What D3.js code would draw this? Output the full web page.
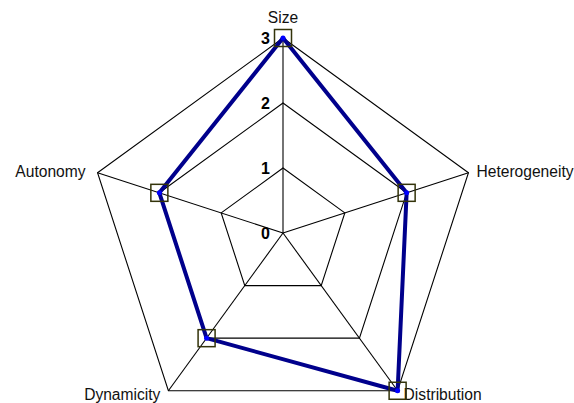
<!DOCTYPE html>
<html>
<head>
<meta charset="utf-8">
<script src="https://cdn.jsdelivr.net/npm/d3@7"></script>
<style>
  html, body { margin: 0; padding: 0; background: #fff; }
  svg { display: block; font-family: "Liberation Sans", Arial, sans-serif; }
</style>
</head>
<body>
<div id="chart"></div>
<script>
// categories (clockwise from top) and series values
var axes = ["Size", "Heterogeneity", "Distribution", "Dynamicity", "Autonomy"];
var values = [3, 2, 3, 2, 2];
var ticks = [0, 1, 2, 3];

var W = 574, H = 403,
  cx = 283, cy = 233;

var svg = d3.select("#chart").append("svg")
  .attr("width", W).attr("height", H)
  .attr("viewBox", "0 0 " + W + " " + H);

var r = d3.scaleLinear().domain([0, 3]).range([0, 195]);
var angle = d3.scalePoint().domain(axes.concat(["_end"])).range([-Math.PI / 2, 3 * Math.PI / 2]);

function pt(name, v) {
  var a = angle(name);
  return [cx + r(v) * Math.cos(a), cy + r(v) * Math.sin(a)];
}

var g = svg.append("g");

// rings
ticks.filter(function(t) { return t > 0; }).forEach(function(t) {
  g.append("path")
    .attr("d", d3.line()(axes.map(function(a) { return pt(a, t); })) + "Z")
    .attr("fill", "none").attr("stroke", "#000").attr("stroke-width", 1.1);
});

// spokes
g.selectAll(".spoke").data(axes).enter().append("line")
  .attr("x1", cx).attr("y1", cy)
  .attr("x2", function(d) { return pt(d, 3)[0]; })
  .attr("y2", function(d) { return pt(d, 3)[1]; })
  .attr("stroke", "#000").attr("stroke-width", 1.1);

// tick labels along the top axis
g.selectAll(".tick").data(ticks).enter().append("text")
  .attr("x", cx - 13)
  .attr("y", function(d) { return cy - r(d); })
  .attr("dy", "0.36em")
  .attr("text-anchor", "end")
  .attr("font-weight", "bold")
  .attr("font-size", "16px")
  .text(function(d) { return d; });

// axis labels
g.selectAll(".lab").data(axes).enter().append("text")
  .attr("font-size", "15.6px")
  .attr("fill", "#111")
  .each(function(d) {
    var p = pt(d, 3), c = Math.cos(angle(d)), s = Math.sin(angle(d));
    var t = d3.select(this);
    if (Math.abs(c) < 0.1) {
      t.attr("x", p[0]).attr("y", p[1] - 15).attr("text-anchor", "middle");
    } else if (s > 0.5) {
      t.attr("x", p[0] + (c > 0 ? 6 : -8)).attr("y", p[1] + 9)
        .attr("text-anchor", c > 0 ? "start" : "end");
    } else {
      t.attr("x", p[0] + (c > 0 ? 8 : -12)).attr("y", p[1] + 4)
        .attr("text-anchor", c > 0 ? "start" : "end");
    }
  })
  .text(function(d) { return d; });

// series line
var pts = axes.map(function(a, i) { return pt(a, values[i]); });
g.append("path")
  .attr("d", d3.line()(pts) + "Z")
  .attr("fill", "none")
  .attr("stroke", "#00008c")
  .attr("stroke-width", 4)
  .attr("stroke-linejoin", "round");

// markers
g.selectAll(".mk").data(pts).enter().append("rect")
  .attr("x", function(d) { return d[0] - 8.5; })
  .attr("y", function(d) { return d[1] - 8.5; })
  .attr("width", 17).attr("height", 17)
  .attr("fill", "none").attr("stroke", "#33330a").attr("stroke-width", 1.5);

g.selectAll(".dot").data(pts).enter().append("circle")
  .attr("cx", function(d) { return d[0]; })
  .attr("cy", function(d) { return d[1]; })
  .attr("r", 2.5)
  .attr("fill", "#0000ff");
</script>
</body>
</html>
